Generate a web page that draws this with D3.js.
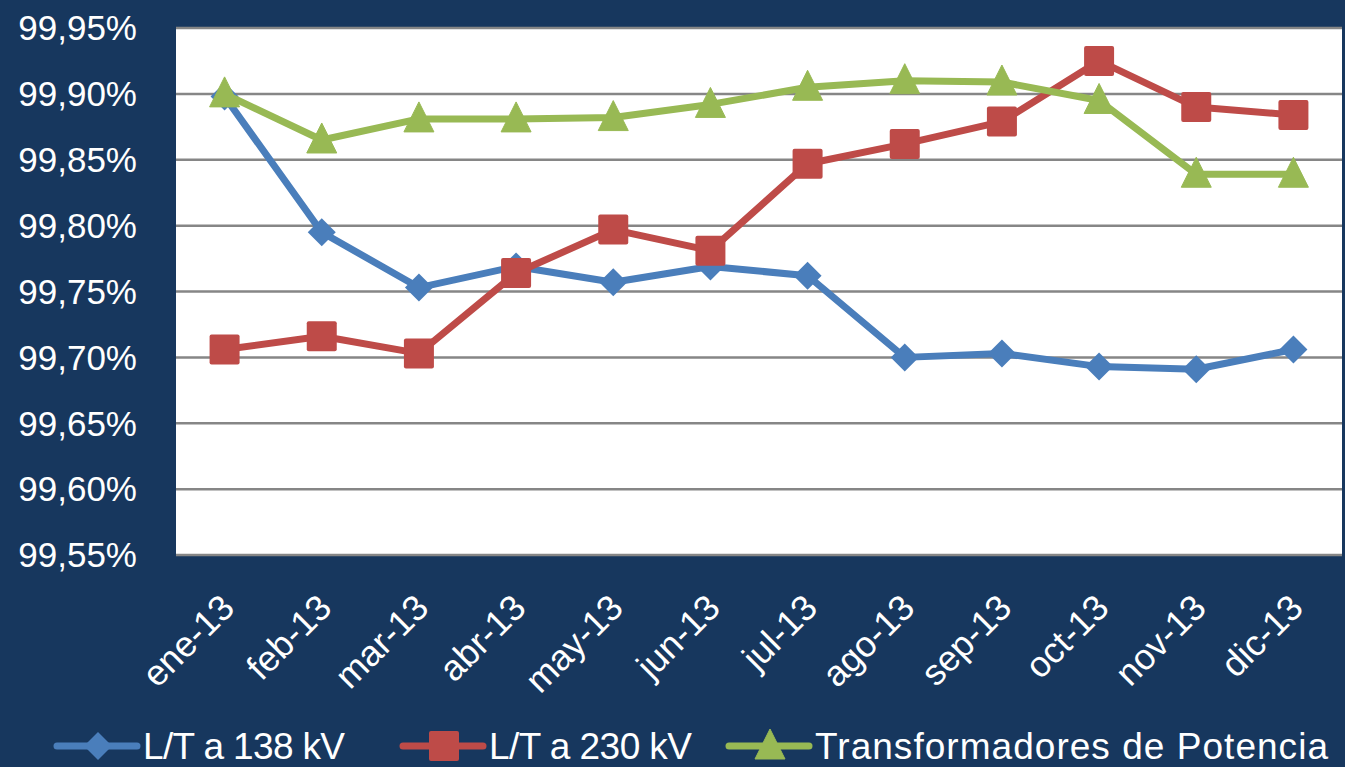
<!DOCTYPE html>
<html>
<head>
<meta charset="utf-8">
<script src="https://cdn.jsdelivr.net/npm/d3@7"></script>
<style>
  body { margin: 0; background: #17375e; }
  svg { display: block; }
  text { font-family: "Liberation Sans", Arial, sans-serif; fill: #fff; }
</style>
</head>
<body>
<svg id="chart" width="1345" height="767"></svg>
<script>
// data
var months = ["ene-13", "feb-13", "mar-13", "abr-13", "may-13", "jun-13",
              "jul-13", "ago-13", "sep-13", "oct-13", "nov-13", "dic-13"];
var lt138 = [99.898, 99.795, 99.753, 99.769, 99.757, 99.769, 99.762, 99.700, 99.703, 99.693, 99.691, 99.706];
var lt230 = [99.706, 99.716, 99.703, 99.764, 99.797, 99.781, 99.847, 99.862, 99.879, 99.925, 99.890, 99.884];
var trafos = [99.900, 99.865, 99.881, 99.881, 99.882, 99.892, 99.905, 99.910, 99.909, 99.895, 99.839, 99.839];
var yTicks = [99.55, 99.60, 99.65, 99.70, 99.75, 99.80, 99.85, 99.90, 99.95];
var seriesNames = ["L/T a 138 kV", "L/T a 230 kV", "Transformadores de Potencia"];

var series = [
  {name: seriesNames[0], values: lt138, color: "#4a7ebb", shape: "diamond"},
  {name: seriesNames[1], values: lt230, color: "#be4b48", shape: "square"},
  {name: seriesNames[2], values: trafos, color: "#98b954", shape: "triangle"}
];

var svg = d3.select("#chart"),
    plot = {left: 176, right: 1342, top: 28, bottom: 555};

var x = d3.scaleBand().domain(months).range([plot.left, plot.right]),
    y = d3.scaleLinear().domain([99.55, 99.95]).range([plot.bottom, plot.top]);

function cx(i) { return x(months[i]) + x.bandwidth() / 2; }

// marker shapes
function marker(sel, shape, color) {
  if (shape === "square") {
    sel.append("rect").attr("x", -15).attr("y", -15).attr("width", 30).attr("height", 30)
      .attr("rx", 2).attr("fill", color);
  } else if (shape === "diamond") {
    sel.append("path").attr("d", "M0,-14L14,0L0,14L-14,0Z").attr("fill", color);
  } else {
    sel.append("path").attr("d", "M0,-17L15,13L-15,13Z").attr("fill", color)
      .attr("stroke", color).attr("stroke-width", 1).attr("stroke-linejoin", "round");
  }
}

// plot background
svg.append("rect")
  .attr("x", plot.left).attr("y", plot.top - 1)
  .attr("width", plot.right - plot.left).attr("height", plot.bottom - plot.top + 1)
  .attr("fill", "#fff");

// grid lines
svg.append("g").selectAll("line").data(yTicks).enter().append("line")
  .attr("x1", plot.left).attr("x2", plot.right)
  .attr("y1", function(d) { return y(d); }).attr("y2", function(d) { return y(d); })
  .attr("stroke", "#868686").attr("stroke-width", 2.5);

// y labels
var fmt = function(d) { return d.toFixed(2).replace(".", ",") + "%"; };
svg.append("g").selectAll("text").data(yTicks).enter().append("text")
  .attr("x", 137).attr("y", function(d) { return y(d); })
  .attr("dy", "0.35em")
  .attr("text-anchor", "end")
  .style("font-size", "35px")
  .text(fmt);

// x labels
svg.append("g").selectAll("text").data(months).enter().append("text")
  .attr("transform", function(d, i) { return "translate(" + (cx(i) - 6) + ",592) rotate(-45)"; })
  .attr("text-anchor", "end")
  .attr("dy", "0.7em")
  .style("font-size", "36px")
  .text(function(d) { return d; });

// series
var line = d3.line()
  .x(function(d, i) { return cx(i); })
  .y(function(d) { return y(d); });

series.forEach(function(s) {
  var g = svg.append("g");
  g.append("path")
    .attr("d", line(s.values))
    .attr("fill", "none")
    .attr("stroke", s.color)
    .attr("stroke-width", 7)
    .attr("stroke-linejoin", "round");
  g.selectAll(".pt").data(s.values).enter().append("g")
    .attr("class", "pt")
    .attr("transform", function(d, i) { return "translate(" + cx(i) + "," + y(d) + ")"; })
    .each(function() { marker(d3.select(this), s.shape, s.color); });
});

// legend
var legendX = [57, 403, 729],
    legendTextLen = [202, 203, 513];
var legend = svg.append("g").selectAll("g").data(series).enter().append("g")
  .attr("transform", function(d, i) { return "translate(" + legendX[i] + ",746)"; });
legend.append("line")
  .attr("x1", 0).attr("x2", 80)
  .attr("stroke", function(d) { return d.color; })
  .attr("stroke-width", 7)
  .attr("stroke-linecap", "round");
legend.each(function(d) {
  var m = d3.select(this).append("g").attr("transform", "translate(41,0)");
  marker(m, d.shape, d.color);
});
legend.append("text")
  .attr("x", 86).attr("dy", "0.36em")
  .attr("textLength", function(d, i) { return legendTextLen[i]; })
  .attr("lengthAdjust", "spacing")
  .style("font-size", "37px")
  .text(function(d) { return d.name; });
</script>
</body>
</html>
